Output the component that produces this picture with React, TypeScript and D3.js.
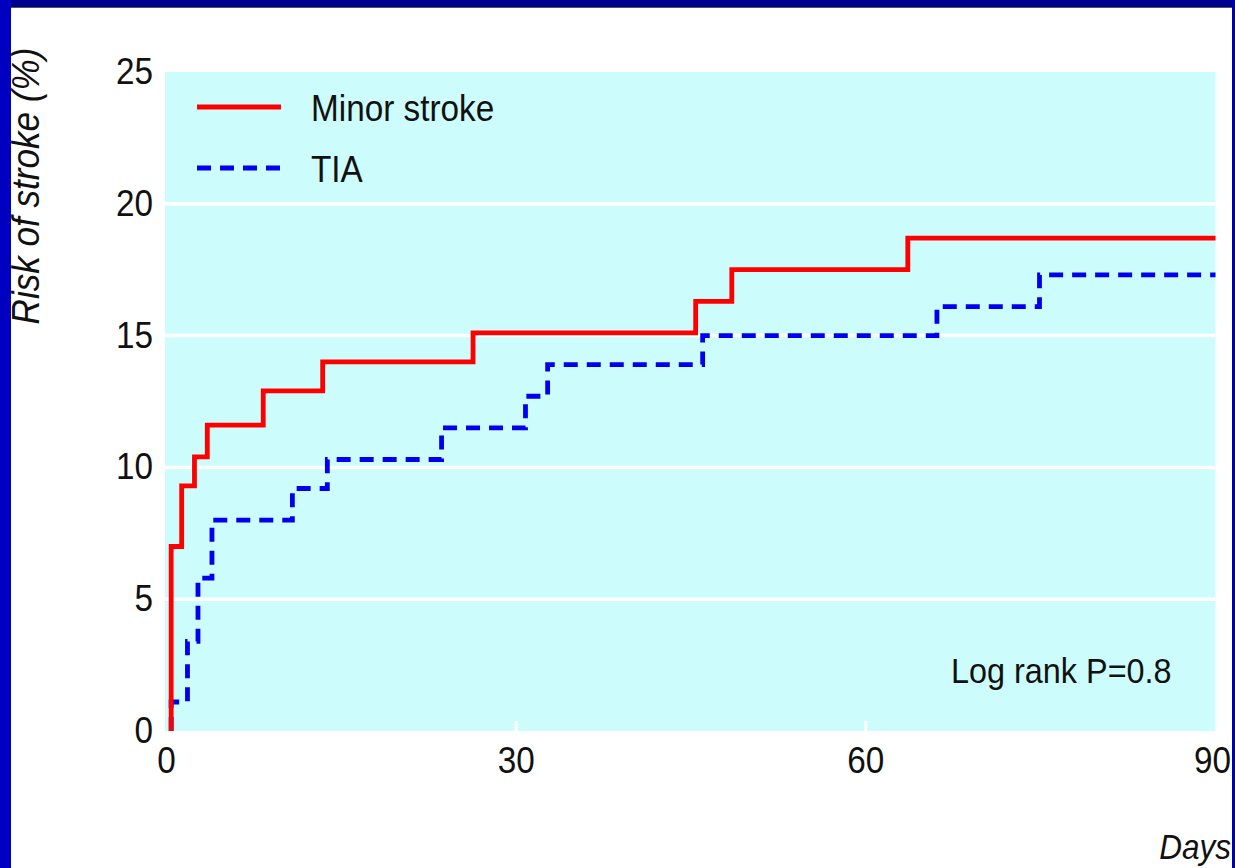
import React from "react";
import * as d3 from "d3";

// Kaplan-Meier style step data
const minorDays = [0.4, 1.3, 2.4, 3.5, 8.3, 13.4, 26.3, 45.4, 48.5, 63.6];
const minorRisk = [7.0, 9.3, 10.4, 11.6, 12.9, 14.0, 15.1, 16.3, 17.5, 18.7];

const tiaDays = [0.4, 1.8, 2.7, 3.9, 10.8, 13.8, 23.6, 30.8, 32.7, 46.0, 66.1, 74.9];
const tiaRisk = [1.1, 3.4, 5.8, 8.0, 9.2, 10.3, 11.5, 12.7, 13.9, 15.0, 16.1, 17.3];

const yTicks = [0, 5, 10, 15, 20, 25];
const xTicks = [0, 30, 60, 90];
const seriesNames = ["Minor stroke", "TIA"];

const W = 1235;
const H = 868;
const FONT = "'Liberation Sans', Arial, Helvetica, sans-serif";
const SX = 0.9; // horizontal squeeze to mimic the condensed face

const x = d3.scaleLinear().domain([0, 90]).range([166.5, 1215.5]);
const y = d3.scaleLinear().domain([0, 25]).range([731, 72]);

const stepLine = d3
  .line<[number, number]>()
  .x((d) => x(d[0]))
  .y((d) => y(d[1]))
  .curve(d3.curveStepAfter);

const buildPoints = (days: number[], risk: number[]): [number, number][] => {
  const pts: [number, number][] = [[days[0], 0]];
  days.forEach((d, i) => pts.push([d, risk[i]]));
  pts.push([90, risk[risk.length - 1]]);
  return pts;
};

type CTextProps = {
  x: number;
  y: number;
  size?: number;
  anchor?: "start" | "middle" | "end";
  italic?: boolean;
  rotate?: number;
  children: React.ReactNode;
};

const CText = ({ x, y, size = 37, anchor = "start", italic, rotate, children }: CTextProps) => (
  <text
    transform={`translate(${x},${y})${rotate ? ` rotate(${rotate})` : ""} scale(${SX},1)`}
    textAnchor={anchor}
    fontSize={size}
    fontStyle={italic ? "italic" : "normal"}
    fill="#111"
  >
    {children}
  </text>
);

const App = () => {
  const minorPath = stepLine(buildPoints(minorDays, minorRisk)) || "";
  const tiaPath = stepLine(buildPoints(tiaDays, tiaRisk)) || "";

  return (
    <svg
      width={W}
      height={H}
      style={{ position: "absolute", left: 0, top: 0 }}
      fontFamily={FONT}
    >
      <rect x={0} y={0} width={W} height={H} fill="#ffffff" />

      {/* plot background */}
      <rect
        x={x(0) - 1.5}
        y={y(25)}
        width={x(90) - x(0) + 1.5}
        height={y(0) - y(25)}
        fill="#ccfcfc"
      />

      {/* white gridlines */}
      {yTicks
        .filter((t) => t > 0 && t < 25)
        .map((t) => (
          <line
            key={t}
            x1={x(0) - 1.5}
            x2={x(90)}
            y1={y(t)}
            y2={y(t)}
            stroke="#ffffff"
            strokeWidth={3.5}
          />
        ))}
      {xTicks
        .filter((t) => t > 0 && t < 90)
        .map((t) => (
          <line
            key={t}
            x1={x(t)}
            x2={x(t)}
            y1={y(0)}
            y2={y(0) - 10}
            stroke="#ffffff"
            strokeWidth={3}
          />
        ))}

      {/* y tick labels */}
      {yTicks.map((t) => (
        <CText key={t} x={153} y={y(t) + 12} anchor="end">
          {t}
        </CText>
      ))}

      {/* x tick labels */}
      {xTicks.map((t) => (
        <CText key={t} x={x(t) - (t === 90 ? 3 : 0)} y={773} anchor="middle">
          {t}
        </CText>
      ))}

      {/* axis titles */}
      <CText x={39} y={186} anchor="middle" italic rotate={-90} size={39}>
        Risk of stroke (%)
      </CText>
      <CText x={1231} y={859} anchor="end" italic size={35}>
        Days
      </CText>

      {/* survival steps */}
      <path
        d={tiaPath}
        fill="none"
        stroke="#0000ee"
        strokeWidth={4.8}
        strokeDasharray="14,9"
      />
      <path d={minorPath} fill="none" stroke="#ff0000" strokeWidth={4.8} />

      {/* legend */}
      <line x1={197} x2={281} y1={107} y2={107} stroke="#ff0000" strokeWidth={4.8} />
      <CText x={311} y={121}>{seriesNames[0]}</CText>
      <line
        x1={197}
        x2={283}
        y1={168}
        y2={168}
        stroke="#0000ee"
        strokeWidth={4.8}
        strokeDasharray="14,9"
      />
      <CText x={311} y={182}>{seriesNames[1]}</CText>

      <CText x={951} y={683} size={36}>
        Log rank P=0.8
      </CText>

      {/* slide frame */}
      <rect x={0} y={0} width={W} height={7} fill="#000090" />
      <line x1={11} x2={1232} y1={7.5} y2={7.5} stroke="#555" strokeWidth={1} />
      <rect x={0} y={0} width={11} height={H} fill="#0000c0" />
      <rect x={1232} y={0} width={3} height={H} fill="#0000b0" />
    </svg>
  );
};

export default App;
